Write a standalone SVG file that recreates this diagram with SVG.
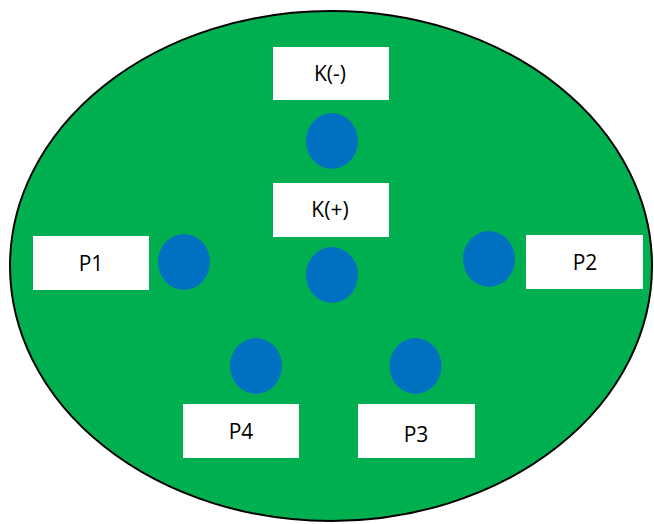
<svg xmlns="http://www.w3.org/2000/svg" width="654" height="524" viewBox="0 0 654 524">
<style>
.box{fill:#ffffff}
.dot{fill:#0070C0}
.lbl{font-family:"Open Sans","Liberation Sans",sans-serif;font-size:21px;fill:#000000;text-anchor:middle}
</style>
<rect width="654" height="524" fill="#ffffff"/>
<ellipse id="plate" cx="331" cy="266" rx="321" ry="255" fill="#00B050" stroke="#000000" stroke-width="2"/>
<g id="connectors"></g>
<g id="K-minus">
<rect class="box" x="273" y="47" width="116" height="53"/>
<text class="lbl" x="330" y="81">K(-)</text>
</g>
<g id="electrode-K-minus"><ellipse class="dot" cx="332" cy="141" rx="26" ry="28"/></g>
<g id="K-plus">
<rect class="box" x="273" y="183" width="116" height="54"/>
<text class="lbl" x="330" y="217">K(+)</text>
</g>
<g id="electrode-K-plus"><ellipse class="dot" cx="332" cy="275" rx="26" ry="28"/></g>
<g id="P1">
<rect class="box" x="33" y="236" width="116" height="54"/>
<text class="lbl" x="91" y="271">P1</text>
</g>
<g id="electrode-P1"><ellipse class="dot" cx="184" cy="262" rx="26" ry="28"/></g>
<g id="P2">
<rect class="box" x="526" y="235" width="117" height="54"/>
<text class="lbl" x="585" y="270">P2</text>
</g>
<g id="electrode-P2"><ellipse class="dot" cx="489" cy="259" rx="26" ry="28"/></g>
<g id="P4">
<rect class="box" x="183" y="404" width="116" height="54"/>
<text class="lbl" x="241" y="439">P4</text>
</g>
<g id="electrode-P4"><ellipse class="dot" cx="256" cy="366" rx="26" ry="28"/></g>
<g id="P3">
<rect class="box" x="358" y="404" width="117" height="54"/>
<text class="lbl" x="416" y="442">P3</text>
</g>
<g id="electrode-P3"><ellipse class="dot" cx="415.5" cy="366" rx="26" ry="28"/></g>
</svg>
